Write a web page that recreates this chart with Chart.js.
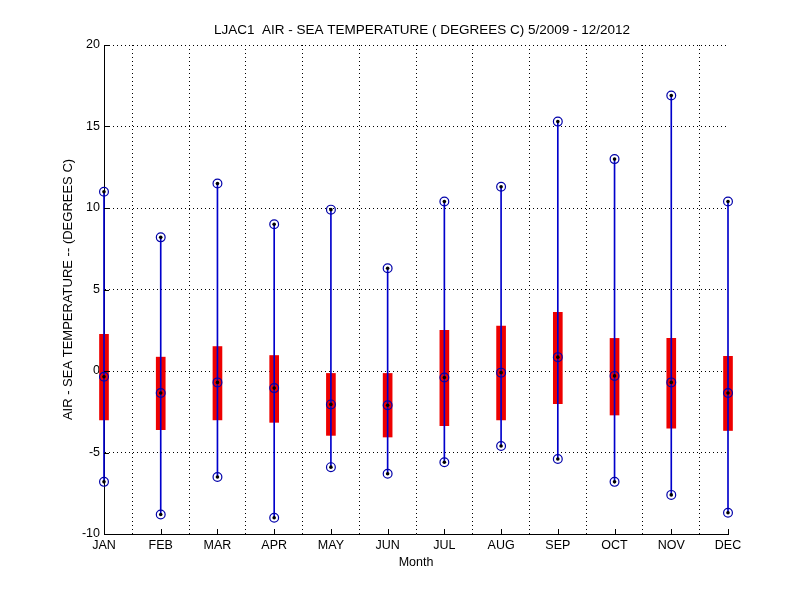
<!DOCTYPE html>
<html>
<head>
<meta charset="utf-8">
<script src="https://cdn.jsdelivr.net/npm/chart.js@4"></script>
<style>
  html, body { margin: 0; padding: 0; background: #ffffff; }
  #wrap { width: 800px; height: 600px; position: relative; }
</style>
</head>
<body>
<div id="wrap"><canvas id="c" width="800" height="600"></canvas></div>
<script>
const months = ['JAN','FEB','MAR','APR','MAY','JUN','JUL','AUG','SEP','OCT','NOV','DEC'];
const maxVals    = [11.0, 8.2, 11.5, 9.0, 9.9, 6.3, 10.4, 11.3, 15.3, 13.0, 16.9, 10.4];
const minVals    = [-6.8, -8.8, -6.5, -9.0, -5.9, -6.3, -5.6, -4.6, -5.4, -6.8, -7.6, -8.7];
const q3Vals     = [2.25, 0.85, 1.5, 0.95, -0.15, -0.15, 2.5, 2.75, 3.6, 2.0, 2.0, 0.9];
const q1Vals     = [-3.0, -3.6, -3.0, -3.15, -3.95, -4.05, -3.35, -3.0, -2.0, -2.7, -3.5, -3.65];
const medianVals = [-0.35, -1.35, -0.7, -1.05, -2.05, -2.1, -0.4, -0.1, 0.85, -0.3, -0.7, -1.35];
const yTicks = [-10, -5, 0, 5, 10, 15, 20];

const xs = months.map((m, i) => i + 1);
const boxData = xs.map((x, i) => ({ x: x, y: [q1Vals[i], q3Vals[i]] }));
const whiskerData = xs.map((x, i) => ({ x: x, y: [minVals[i], maxVals[i]] }));
const markerData = [];
xs.forEach((x, i) => {
  markerData.push({ x: x, y: maxVals[i] });
  markerData.push({ x: x, y: minVals[i] });
  markerData.push({ x: x, y: medianVals[i] });
});

const FONT = 'Liberation Sans, Arial, Helvetica, sans-serif';

// inward tick marks in MATLAB style
const innerTicks = {
  id: 'innerTicks',
  afterDatasetsDraw(chart) {
    const ctx = chart.ctx;
    const xS = chart.scales.x, yS = chart.scales.y;
    const a = chart.chartArea;
    ctx.save();
    ctx.strokeStyle = '#000';
    ctx.lineWidth = 1;
    ctx.beginPath();
    xs.forEach(v => {
      const px = Math.round(xS.getPixelForValue(v)) + 0.5;
      ctx.moveTo(px, a.bottom); ctx.lineTo(px, a.bottom - 5);
    });
    yTicks.forEach(v => {
      const py = Math.round(yS.getPixelForValue(v)) + 0.5;
      ctx.moveTo(a.left, py); ctx.lineTo(a.left + 5, py);
    });
    ctx.stroke();
    ctx.restore();
  }
};

new Chart(document.getElementById('c'), {
  type: 'bar',
  data: {
    datasets: [
      {
        type: 'scatter',
        label: 'dots',
        data: markerData,
        pointStyle: 'circle',
        pointRadius: 1.8,
        pointBackgroundColor: '#000000',
        pointBorderColor: '#000000',
        pointBorderWidth: 0,
        clip: false,
        order: 0
      },
      {
        type: 'scatter',
        label: 'circles',
        data: markerData,
        pointStyle: 'circle',
        pointRadius: 4.4,
        pointBackgroundColor: 'rgba(0,0,0,0)',
        pointBorderColor: '#0000aa',
        pointBorderWidth: 1.2,
        clip: false,
        order: 1
      },
      {
        type: 'bar',
        label: 'range',
        data: whiskerData,
        backgroundColor: '#0000cc',
        borderWidth: 0,
        barThickness: 1,
        grouped: false,
        clip: false,
        order: 2
      },
      {
        type: 'bar',
        label: 'box',
        data: boxData,
        backgroundColor: '#ee0000',
        borderWidth: 0,
        barThickness: 9,
        grouped: false,
        clip: false,
        order: 3
      }
    ]
  },
  options: {
    responsive: false,
    animation: false,
    devicePixelRatio: 1,
    layout: { padding: { left: 44, right: 0, top: 0, bottom: 0 } },
    plugins: {
      legend: { display: false },
      tooltip: { enabled: false },
      title: {
        display: true,
        text: 'LJAC1  AIR - SEA TEMPERATURE ( DEGREES C) 5/2009 - 12/2012',
        color: '#000',
        font: { family: FONT, size: 13.5, weight: 'normal' },
        padding: { top: 22, bottom: 6.8 }
      }
    },
    scales: {
      x: {
        type: 'linear',
        min: 1,
        max: 12,
        offset: false,
        afterBuildTicks(s) { s.ticks = xs.map(v => ({ value: v })); },
        afterFit(s) { s.height = 66; },
        ticks: {
          autoSkip: false,
          maxRotation: 0,
          color: '#000',
          padding: 4,
          font: { family: FONT, size: 12.5 },
          callback: (v) => months[v - 1]
        },
        grid: { color: '#000', lineWidth: 1, drawTicks: false },
        border: { display: true, color: '#000', width: 1, dash: [1, 3] },
        title: {
          display: true,
          text: 'Month',
          color: '#000',
          font: { family: FONT, size: 12.5 },
          padding: { top: 0, bottom: 30 }
        }
      },
      y: {
        type: 'linear',
        min: -10,
        max: 20,
        afterBuildTicks(s) { s.ticks = yTicks.map(v => ({ value: v })); },
        afterFit(s) { s.width = 60; },
        ticks: {
          color: '#000',
          padding: 4,
          font: { family: FONT, size: 12.5 }
        },
        grid: { color: '#000', lineWidth: 1, drawTicks: false },
        border: { display: true, color: '#000', width: 1, dash: [1, 3] },
        title: {
          display: true,
          text: 'AIR - SEA TEMPERATURE -- (DEGREES C)',
          color: '#000',
          font: { family: FONT, size: 13 },
          padding: { top: 16.2, bottom: 0 }
        }
      },
      yRight: {
        type: 'linear',
        position: 'right',
        min: -10,
        max: 20,
        afterFit(s) { s.width = 72; },
        ticks: { display: false },
        grid: { display: false, drawTicks: false },
        border: { display: false }
      }
    }
  },
  plugins: [innerTicks]
});
</script>
</body>
</html>
